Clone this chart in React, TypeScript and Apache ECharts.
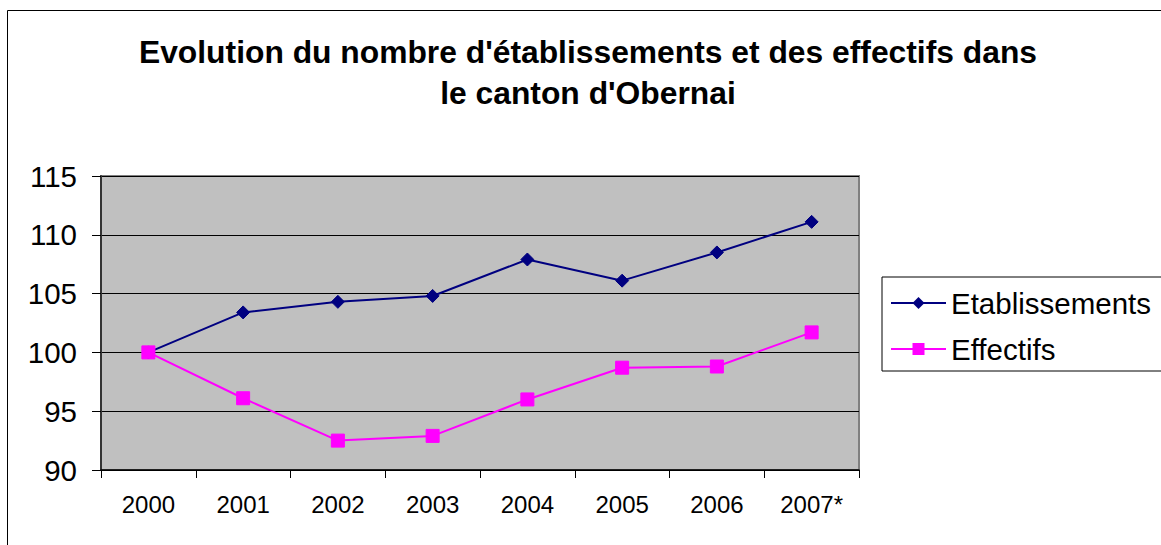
import React, { useEffect, useRef } from "react";
import * as echarts from "echarts";

const titleLines = [
  "Evolution du nombre d'établissements et des effectifs dans",
  "le canton d'Obernai",
];
const categories = ["2000", "2001", "2002", "2003", "2004", "2005", "2006", "2007*"];
const etablissements = [100, 103.4, 104.3, 104.8, 107.9, 106.1, 108.5, 111.1];
const effectifs = [100, 96.1, 92.5, 92.9, 96.0, 98.7, 98.8, 101.7];
const yMin = 90;
const yMax = 115;
const yInterval = 5;

const FONT = "'Liberation Sans', Arial, sans-serif";

export default function App() {
  const ref = useRef<HTMLDivElement>(null);
  useEffect(() => {
    if (!ref.current) return;
    const chart = echarts.init(ref.current, undefined, { renderer: "svg" });
    chart.setOption({
      animation: false,
      backgroundColor: "#ffffff",
      textStyle: { fontFamily: FONT },
      title: {
        text: titleLines.join("\n"),
        left: 583,
        top: 26,
        textAlign: "center",
        textStyle: {
          fontFamily: FONT,
          fontSize: 31.8,
          fontWeight: "bold",
          color: "#000",
          lineHeight: 41,
        },
      },
      graphic: [
        {
          type: "rect",
          silent: true,
          z: -10,
          shape: { x: 7.5, y: 10.5, width: 1200, height: 600 },
          style: { fill: "none", stroke: "#000", lineWidth: 1 },
        },
      ],
      legend: {
        orient: "vertical",
        left: 882,
        top: 277,
        padding: [11, 30, 7, 8],
        itemGap: 16,
        itemWidth: 55,
        itemHeight: 15,
        borderColor: "#000",
        borderWidth: 1,
        backgroundColor: "#fff",
        textStyle: { fontFamily: FONT, fontSize: 29.5, color: "#000" },
        data: ["Etablissements", "Effectifs"],
      },
      grid: {
        left: 101,
        top: 176,
        right: 302,
        bottom: 75,
        show: true,
        backgroundColor: "#C0C0C0",
        borderColor: "#808080",
        borderWidth: 2,
      },
      xAxis: {
        type: "category",
        data: categories,
        boundaryGap: true,
        axisLine: { show: true, lineStyle: { color: "#000", width: 1.5 } },
        axisTick: { show: true, interval: 0, length: 8, inside: false, lineStyle: { color: "#000" } },
        axisLabel: { interval: 0, margin: 22, fontFamily: FONT, fontSize: 24, color: "#000" },
        splitLine: { show: false },
      },
      yAxis: {
        type: "value",
        min: yMin,
        max: yMax,
        interval: yInterval,
        axisLine: { show: true, lineStyle: { color: "#333", width: 2 } },
        axisTick: { show: true, length: 9, lineStyle: { color: "#000" } },
        axisLabel: { margin: 24, fontFamily: FONT, fontSize: 29.5, color: "#000" },
        splitLine: { show: true, lineStyle: { color: "#000", width: 1 } },
      },
      series: [
        {
          name: "Etablissements",
          type: "line",
          data: etablissements,
          symbol: "diamond",
          symbolSize: 13,
          showAllSymbol: true,
          lineStyle: { color: "#000080", width: 2 },
          itemStyle: { color: "#000080", borderColor: "#000080" },
        },
        {
          name: "Effectifs",
          type: "line",
          data: effectifs,
          symbol: "rect",
          symbolSize: 13,
          showAllSymbol: true,
          lineStyle: { color: "#FF00FF", width: 2 },
          itemStyle: { color: "#FF00FF", borderColor: "#FF00FF" },
        },
      ],
    });
    return () => chart.dispose();
  }, []);
  return (
    <div
      ref={ref}
      style={{ position: "fixed", left: 0, top: 0, width: 1161, height: 545 }}
    />
  );
}
